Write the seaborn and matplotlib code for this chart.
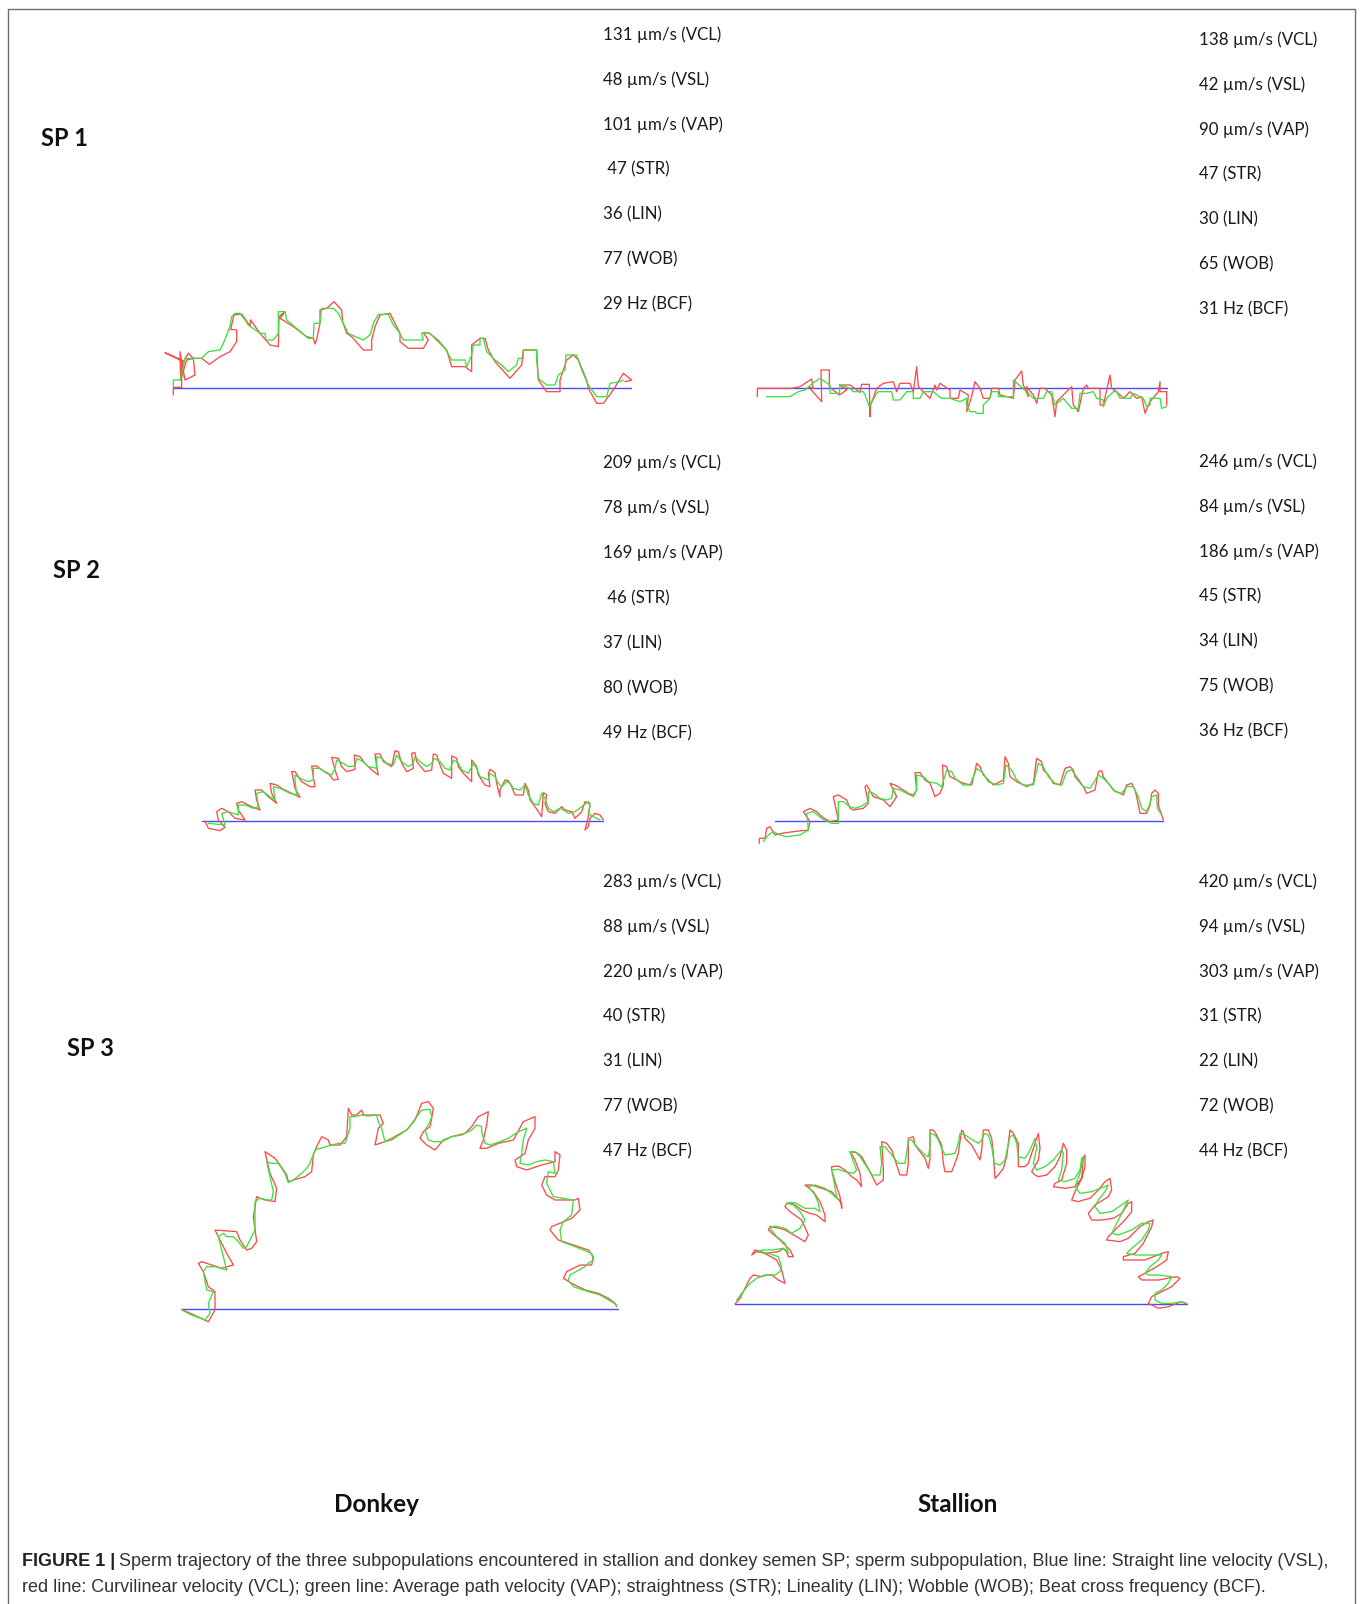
import pandas as pd
import matplotlib
matplotlib.use("Agg")
import matplotlib.pyplot as plt
import seaborn as sns

sns.set_style("white")
plt.rcParams['font.family'] = ['Lato', 'DejaVu Sans']

# ===== KINEMATIC VALUES (SP1, SP2, SP3) =====
donkey_vcl = [131, 209, 283]
donkey_vsl = [48, 78, 88]
donkey_vap = [101, 169, 220]
donkey_str = [47, 46, 40]
donkey_lin = [36, 37, 31]
donkey_wob = [77, 80, 77]
donkey_bcf = [29, 49, 47]

stallion_vcl = [138, 246, 420]
stallion_vsl = [42, 84, 94]
stallion_vap = [90, 186, 303]
stallion_str = [47, 45, 31]
stallion_lin = [30, 34, 22]
stallion_wob = [65, 75, 72]
stallion_bcf = [31, 36, 44]

sp_labels = ["SP 1", "SP 2", "SP 3"]
species = ["Donkey", "Stallion"]

# ===== TRACKS (points in track units, y downwards) =====
# SP1 donkey
d1_vcl = [(40,315),(40,292),(65,292),(65,210),(15,188),(70,215),(85,190),(100,205),(105,255),(75,270),
          (60,185),(62,270),(80,210),(100,205),(125,205),(148,223),(180,200),(210,185),(230,155),(230,120),
          (212,118),(222,75),(245,72),(270,108),(272,90),(300,130),(330,165),(355,170),(357,80),(375,65),
          (360,85),(400,110),(440,140),(460,145),(465,162),(470,148),(480,100),(480,60),(500,55),(522,35),
          (545,60),(548,95),(560,130),(575,140),(610,180),(635,180),(635,150),(645,110),(660,75),(690,70),
          (700,90),(720,130),(720,155),(745,175),(790,175),(805,150),(790,128),(810,130),(830,150),(860,180),
          (875,230),(915,230),(935,245),(935,165),(960,145),(975,145),(985,180),(1005,215),(1050,265),(1085,225),
          (1090,180),(1130,180),(1135,270),(1160,305),(1200,305),(1200,270),(1220,210),(1240,195),(1255,210),
          (1280,270),(1285,295),(1310,340),(1330,340),(1360,300),(1390,250),(1415,270),(1395,275)]
d1_vap = [(40,290),(40,270),(60,270),(70,230),(75,205),(125,205),(145,185),(180,180),(190,160),(210,110),
          (215,80),(225,70),(240,70),(255,90),(265,105),(300,130),(315,130),(318,150),(340,150),(355,130),
          (355,65),(375,65),(380,90),(445,145),(460,145),(462,100),(480,100),(485,55),(520,55),(535,70),
          (550,100),(565,130),(575,135),(610,150),(630,135),(640,100),(655,73),(685,73),(700,105),(720,130),
          (730,150),(790,150),(785,130),(805,128),(835,150),(855,175),(875,210),(915,210),(920,230),(935,195),
          (940,165),(960,165),(960,145),(970,145),(980,185),(1005,210),(1025,225),(1045,245),(1070,225),(1075,205),
          (1090,205),(1090,180),(1130,180),(1130,210),(1135,265),(1160,285),(1185,285),(1195,255),(1215,240),
          (1218,195),(1250,195),(1265,240),(1285,285),(1310,320),(1340,320),(1350,280),(1380,275),(1390,270)]
d1_vsl = [(40,293),(1412,293)]

# SP1 stallion
s1_vcl = [(22,125),(22,100),(125,100),(150,95),(185,72),(190,100),(175,95),(215,140),(213,45),(238,45),
          (238,95),(268,120),(290,105),(268,90),(300,90),(330,112),(335,88),(358,88),(360,185),(362,150),
          (380,100),(400,85),(430,80),(440,110),(450,85),(480,85),(490,110),(500,35),(505,95),(520,110),
          (540,130),(555,90),(560,105),(570,85),(600,105),(600,130),(625,130),(630,105),(655,120),(650,170),
          (665,125),(675,80),(690,100),(700,130),(720,130),(725,100),(745,100),(750,120),(790,130),(795,75),
          (815,48),(820,90),(835,125),(830,95),(850,120),(860,145),(870,100),(885,100),(905,120),(915,185),
          (920,140),(940,120),(965,95),(970,150),(985,170),(1000,100),(1010,90),(1015,100),(1050,100),(1050,150),
          (1060,150),(1080,60),(1085,100),(1100,110),(1120,130),(1140,110),(1160,130),(1175,125),(1185,175),
          (1200,140),(1225,110),(1230,80),(1230,110),(1250,110),(1250,150)]
s1_vap = [(50,125),(120,125),(145,110),(165,105),(188,85),(210,70),(240,90),(240,115),(268,115),(270,90),
          (300,100),(310,110),(340,110),(345,120),(358,155),(380,115),(385,110),(425,110),(430,135),(450,135),
          (470,110),(490,110),(490,130),(510,130),(520,110),(550,110),(575,130),(600,130),(630,140),(650,130),
          (650,150),(660,170),(675,170),(680,175),(700,175),(700,150),(720,130),(725,110),(745,110),(745,125),
          (790,125),(790,75),(830,110),(850,130),(880,130),(890,110),(905,110),(915,150),(940,130),(965,160),
          (985,160),(990,115),(1010,115),(1030,110),(1040,130),(1060,135),(1060,155),(1070,130),(1090,110),
          (1100,110),(1110,130),(1140,130),(1150,115),(1160,120),(1180,130),(1190,155),(1200,150),(1200,130),
          (1230,130),(1235,160),(1250,155)]
s1_vsl = [(22,100),(1250,100)]

# SP2 donkey
d2_vcl = [(30,243),(40,265),(75,272),(90,262),(70,240),(65,215),(80,205),(100,215),(120,235),(150,240),
          (130,210),(125,190),(140,185),(170,200),(195,210),(185,180),(180,150),(200,150),(220,170),(245,190),
          (230,160),(225,130),(245,135),(265,148),(290,160),(315,172),(300,145),(290,95),(300,95),(320,125),
          (345,140),(360,140),(355,110),(350,78),(365,78),(380,90),(400,100),(415,120),(430,118),(420,90),
          (410,52),(430,55),(440,80),(455,95),(480,88),(478,45),(495,50),(510,70),(530,90),(550,105),
          (545,80),(540,42),(555,42),(565,65),(590,80),(600,32),(610,35),(620,70),(635,95),(655,85),
          (650,40),(660,38),(665,65),(690,95),(710,90),(715,42),(725,45),(735,75),(745,100),(770,115),
          (770,48),(785,55),(790,80),(805,100),(830,125),(830,60),(845,80),(850,105),(870,135),(885,140),
          (880,100),(885,88),(900,98),(905,130),(915,170),(915,150),(930,120),(940,122),(950,140),(960,165),
          (985,165),(990,130),(1000,150),(1005,180),(1020,200),(1040,230),(1045,158),(1055,165),(1050,190),
          (1060,215),(1080,220),(1100,200),(1110,210),(1130,215),(1140,235),(1160,215),(1170,185),(1185,190),
          (1180,230),(1170,270),(1180,260),(1185,235),(1200,220),(1215,225),(1225,240)]
d2_vap = [(40,250),(90,255),(80,220),(100,215),(130,225),(130,195),(150,195),(175,205),(190,200),(185,160),
          (205,155),(225,170),(240,180),(235,140),(255,145),(285,160),(305,165),(300,120),(300,105),(315,115),
          (340,125),(355,120),(355,85),(375,85),(395,100),(410,105),(420,85),(425,60),(445,70),(460,80),
          (480,78),(485,55),(505,65),(520,80),(545,85),(545,50),(560,55),(575,70),(595,75),(605,45),
          (620,65),(640,80),(655,70),(660,50),(675,65),(695,80),(710,70),(718,55),(735,65),(750,85),
          (765,90),(775,60),(790,70),(800,90),(820,100),(835,70),(845,85),(855,110),(880,120),(885,100),
          (900,110),(910,130),(920,140),(935,125),(945,130),(955,145),(975,150),(990,135),(1000,165),(1015,190),
          (1030,195),(1040,160),(1050,175),(1060,205),(1075,215),(1095,205),(1105,210),(1120,220),(1140,215),
          (1160,200),(1180,185),(1185,200),(1180,220),(1195,230),(1215,240)]
d2_vsl = [(20,242),(1225,242)]

# SP2 stallion
s2_vcl = [(28,280),(28,265),(45,265),(50,235),(60,230),(75,255),(95,250),(130,245),(175,240),(180,215),
          (160,185),(180,175),(200,185),(215,200),(240,215),(265,210),(250,140),(265,135),(290,150),(300,175),
          (310,180),(340,175),(355,160),(345,110),(350,105),(370,140),(400,150),(420,170),(440,140),(420,100),
          (435,105),(460,120),(475,130),(490,135),(500,120),(495,68),(510,68),(525,90),(540,100),(555,140),
          (570,130),(580,105),(578,45),(590,50),(600,80),(620,90),(640,100),(665,105),(680,40),(690,50),
          (700,75),(715,90),(730,105),(760,90),(765,20),(775,40),(780,80),(800,95),(830,110),(850,100),
          (860,25),(875,35),(880,60),(895,75),(910,100),(930,105),(945,55),(960,50),(970,60),(975,80),
          (1000,110),(1010,130),(1035,120),(1045,65),(1055,62),(1060,80),(1075,100),(1090,120),(1120,135),
          (1130,105),(1145,100),(1155,120),(1160,140),(1170,190),(1190,190),(1200,165),(1205,130),(1215,120),
          (1225,130),(1225,165),(1235,195),(1240,210)]
s2_vap = [(40,275),(55,255),(70,245),(90,255),(110,260),(150,255),(175,240),(172,205),(170,190),(190,185),
          (215,205),(245,220),(265,220),(265,155),(280,155),(300,170),(315,175),(335,168),(355,155),(355,125),
          (370,130),(390,145),(410,150),(425,145),(430,115),(450,120),(470,130),(490,140),(500,120),(500,75),
          (520,80),(535,95),(560,100),(575,110),(590,60),(605,65),(615,85),(640,105),(660,105),(680,55),
          (700,70),(715,95),(740,105),(760,100),(768,45),(785,60),(800,90),(820,105),(850,105),(865,40),
          (880,50),(895,80),(915,100),(935,105),(950,65),(965,60),(980,80),(1000,110),(1020,115),(1045,75),
          (1060,85),(1075,100),(1095,125),(1115,130),(1130,110),(1150,110),(1165,140),(1175,175),(1190,185),
          (1200,160),(1205,140),(1220,135),(1222,175),(1232,190)]
s2_vsl = [(75,212),(1240,212)]

# SP3 donkey
d3_vcl = [(20,658),(100,695),(120,660),(120,605),(100,590),(85,545),(70,520),(80,515),(110,525),(140,535),
          (175,525),(155,490),(120,420),(185,425),(195,450),(215,480),(230,475),(245,455),(235,380),(245,320),
          (270,330),(300,335),(305,295),(285,250),(270,185),(300,205),(315,225),(335,255),(340,275),(355,270),
          (390,260),(410,245),(415,195),(425,170),(440,140),(460,150),(465,165),(495,165),(515,140),(520,55),
          (530,75),(545,75),(560,60),(565,75),(590,75),(615,75),(625,100),(610,115),(600,165),(630,155),
          (650,145),(695,120),(720,90),(740,40),(760,35),(775,55),(770,85),(765,110),(745,125),(735,145),
          (755,165),(780,180),(805,150),(830,140),(870,130),(890,110),(910,80),(940,65),(935,105),(925,150),
          (915,175),(935,175),(970,160),(1015,150),(1045,95),(1080,80),(1080,115),(1060,150),(1050,190),(1020,210),
          (1025,230),(1055,240),(1100,225),(1140,215),(1140,185),(1155,195),(1150,240),(1140,260),(1110,260),
          (1100,285),(1115,315),(1140,330),(1200,330),(1210,325),(1215,360),(1190,385),(1130,410),(1125,420),
          (1150,450),(1180,460),(1240,480),(1255,500),(1250,525),(1215,525),(1175,545),(1165,565),(1190,580),
          (1230,600),(1270,610),(1300,625),(1320,640),(1325,650)]
d3_vap = [(20,660),(50,675),(90,690),(105,670),(100,640),(115,605),(95,600),(85,545),(95,530),(120,530),
          (155,540),(130,440),(145,430),(155,440),(175,440),(190,455),(205,475),(215,470),(240,420),(240,335),
          (255,325),(280,330),(290,330),(295,305),(275,215),(290,220),(310,220),(330,250),(340,278),(355,270),
          (380,250),(395,235),(405,220),(420,180),(470,165),(490,160),(510,160),(525,115),(525,80),(540,80),
          (560,75),(580,78),(605,75),(610,95),(620,115),(630,155),(650,150),(680,130),(700,115),(725,80),
          (740,60),(765,58),(770,80),(765,95),(750,120),(760,150),(775,155),(800,155),(830,140),(860,135),
          (890,120),(905,105),(920,110),(920,125),(930,160),(945,165),(975,155),(1000,145),(1030,125),(1055,115),
          (1045,150),(1040,190),(1035,220),(1060,225),(1085,215),(1110,210),(1135,215),(1140,250),(1120,245),
          (1115,280),(1135,320),(1165,325),(1195,330),(1190,375),(1165,395),(1155,420),(1160,455),(1200,470),
          (1250,490),(1255,510),(1240,520),(1230,530),(1185,555),(1180,570),(1195,590),(1240,605),(1275,615),
          (1310,635),(1325,645)]
d3_vsl = [(20,658),(1330,658)]

# SP3 stallion
s3_vcl = [(30,552),(45,535),(75,475),(85,465),(110,470),(125,465),(140,465),(160,480),(180,490),(170,450),
          (155,420),(110,395),(90,390),(80,405),(95,395),(120,400),(160,395),(175,385),(185,395),(190,410),
          (205,410),(195,390),(165,360),(130,330),(135,320),(165,325),(180,330),(215,350),(240,365),(250,345),
          (230,300),(195,275),(180,260),(185,250),(200,248),(230,270),(255,280),(275,285),(300,305),(300,285),
          (285,245),(265,215),(240,195),(260,195),(290,205),(320,215),(350,250),(350,265),(345,230),(330,185),
          (320,150),(320,140),(340,138),(360,150),(380,170),(395,180),(410,200),(405,160),(390,120),(375,95),
          (395,98),(410,110),(435,155),(455,195),(475,180),(475,145),(470,65),(485,70),(500,90),(515,135),
          (525,165),(545,165),(550,130),(550,55),(565,50),(570,75),(585,95),(600,115),(610,145),(615,115),
          (615,30),(625,30),(635,45),(650,75),(655,130),(660,155),(680,155),(690,130),(700,100),(710,30),
          (715,35),(720,55),(740,75),(765,120),(770,90),(775,30),(790,30),(800,55),(805,100),(810,175),
          (820,165),(835,145),(845,110),(855,30),(865,40),(880,70),(880,140),(900,140),(910,130),(930,70),
          (940,40),(945,85),(940,120),(920,155),(930,165),(940,170),(965,165),(990,140),(1005,110),(1015,70),
          (1025,90),(1025,130),(1010,180),(990,190),(985,200),(1020,205),(1050,200),(1070,175),(1075,115),
          (1080,105),(1080,140),(1070,175),(1050,215),(1040,240),(1060,245),(1075,240),(1095,235),(1120,210),
          (1140,185),(1155,175),(1160,210),(1150,230),(1110,255),(1090,280),(1100,300),(1130,300),(1165,295),
          (1190,280),(1210,250),(1220,245),(1220,275),(1200,300),(1180,320),(1150,350),(1145,360),(1185,365),
          (1210,355),(1245,320),(1270,305),(1285,300),(1280,320),(1255,370),(1230,400),(1195,410),(1195,420),
          (1220,420),(1260,420),(1310,400),(1330,395),(1325,420),(1295,440),(1260,460),(1240,470),(1250,480),
          (1300,480),(1355,470),(1365,475),(1340,500),(1300,520),(1280,530),(1270,550),(1300,565),(1330,560),
          (1370,545),(1385,552)]
s3_vap = [(35,540),(50,520),(75,490),(95,475),(120,465),(150,465),(165,455),(170,440),(160,410),(130,400),
          (100,395),(110,390),(140,390),(175,385),(190,400),(180,370),(155,350),(135,325),(150,318),(180,325),
          (200,340),(225,325),(240,300),(225,275),(205,255),(185,250),(210,248),(240,265),(270,265),(285,275),
          (280,250),(270,225),(250,200),(270,195),(300,205),(325,225),(335,235),(330,200),(320,150),(340,148),
          (360,155),(385,160),(395,150),(385,125),(375,95),(390,95),(405,110),(425,140),(440,165),(465,165),
          (470,130),(465,80),(480,80),(500,105),(520,130),(540,130),(545,100),(550,60),(560,60),(575,80),
          (590,95),(600,105),(610,110),(615,80),(615,40),(630,45),(640,60),(650,85),(660,105),(690,100),
          (700,70),(705,40),(720,45),(735,55),(760,70),(770,60),(778,40),(790,45),(800,80),(808,130),
          (825,135),(840,120),(855,50),(865,45),(875,70),(880,110),(900,115),(915,90),(930,55),(935,85),
          (925,130),(935,150),(960,140),(985,120),(1005,95),(1010,90),(1015,100),(1010,150),(1000,180),(1020,185),
          (1050,175),(1065,150),(1070,115),(1075,110),(1065,160),(1050,200),(1065,220),(1100,215),(1140,200),
          (1150,195),(1140,215),(1120,240),(1110,260),(1125,280),(1160,275),(1190,255),(1210,240),(1200,260),
          (1185,290),(1170,320),(1160,340),(1180,345),(1220,330),(1250,310),(1275,310),(1270,330),(1250,360),
          (1220,385),(1205,400),(1230,405),(1270,405),(1310,405),(1300,420),(1275,440),(1260,460),(1270,465),
          (1300,465),(1340,470),(1330,490),(1310,510),(1290,520),(1290,540),(1310,550),(1340,550),(1370,545),
          (1385,550)]
s3_vsl = [(30,552),(1385,552)]

# ===== LAYOUT (figure pixels) =====
W, H = 1360, 1604
track_scale = 1 / 3
track_origin = {
    ("Donkey", 0): (160, 290), ("Stallion", 0): (750, 355),
    ("Donkey", 1): (195, 740), ("Stallion", 1): (750, 750),
    ("Donkey", 2): (175, 1090), ("Stallion", 2): (725, 1120),
}
tracks = {
    ("Donkey", 0): (d1_vcl, d1_vap, d1_vsl), ("Stallion", 0): (s1_vcl, s1_vap, s1_vsl),
    ("Donkey", 1): (d2_vcl, d2_vap, d2_vsl), ("Stallion", 1): (s2_vcl, s2_vap, s2_vsl),
    ("Donkey", 2): (d3_vcl, d3_vap, d3_vsl), ("Stallion", 2): (s3_vcl, s3_vap, s3_vsl),
}
text_x = {"Donkey": 603, "Stallion": 1199}
text_y0 = {("Donkey", 0): 34.5, ("Stallion", 0): 39.5,
           ("Donkey", 1): 463, ("Stallion", 1): 461.5,
           ("Donkey", 2): 881.5, ("Stallion", 2): 881.5}
row_step = 45
sp_label_pos = [(41, 139), (53, 570), (67, 1048)]
species_pos = {"Donkey": (376, 1504), "Stallion": (958, 1504)}

RED, GREEN, BLUE = "#ff4a4a", "#3ee03e", "#4a4aff"

fig = plt.figure(figsize=(W / 100, H / 100), dpi=100)
ax = fig.add_axes([0, 0, 1, 1])

# frame
ax.plot([8, 8, 1355, 1355], [H, 9, 9, H], color="#6e6e6e", lw=1.0)


def to_frame(points, origin):
    df = pd.DataFrame(points, columns=["x", "y"])
    df["x"] = origin[0] + df["x"] * track_scale
    df["y"] = origin[1] + df["y"] * track_scale
    return df


for key, (vcl, vap, vsl) in tracks.items():
    org = track_origin[key]
    sns.lineplot(data=to_frame(vsl, org), x="x", y="y", sort=False, estimator=None,
                 color=BLUE, lw=1.0, ax=ax)
    sns.lineplot(data=to_frame(vcl, org), x="x", y="y", sort=False, estimator=None,
                 color=RED, lw=0.95, ax=ax)
    sns.lineplot(data=to_frame(vap, org), x="x", y="y", sort=False, estimator=None,
                 color=GREEN, lw=0.95, ax=ax)

ax.set_xlim(0, W)
ax.set_ylim(H, 0)
ax.axis("off")

values = {
    "Donkey": [donkey_vcl, donkey_vsl, donkey_vap, donkey_str, donkey_lin, donkey_wob, donkey_bcf],
    "Stallion": [stallion_vcl, stallion_vsl, stallion_vap, stallion_str, stallion_lin, stallion_wob, stallion_bcf],
}
fmts = ["{} µm/s (VCL)", "{} µm/s (VSL)", "{} µm/s (VAP)", "{} (STR)", "{} (LIN)", "{} (WOB)", "{} Hz (BCF)"]

for sp in range(3):
    for name in species:
        for r, fmt in enumerate(fmts):
            txt = fmt.format(values[name][r][sp])
            if name == "Donkey" and r == 3 and sp < 2:
                txt = " " + txt
            ax.text(text_x[name], text_y0[(name, sp)] + r * row_step, txt,
                    fontsize=12.2, va="center", ha="left", color="#1a1a1a")
    ax.text(sp_label_pos[sp][0], sp_label_pos[sp][1], sp_labels[sp], fontsize=17,
            fontweight="bold", va="center", ha="left", color="#111111")

for name in species:
    ax.text(species_pos[name][0], species_pos[name][1], name, fontsize=17.5,
            fontweight="bold", va="center", ha="center", color="#111111")

# caption
cap_font = ["Liberation Sans Narrow", "Liberation Sans", "DejaVu Sans"]
t1 = ax.text(22, 1562, "FIGURE 1 |", fontsize=13, fontweight="bold", va="center",
             ha="left", family=cap_font, color="#222222")
fig.canvas.draw()
bb = t1.get_window_extent(renderer=fig.canvas.get_renderer())
x_after = ax.transData.inverted().transform((bb.x1, bb.y0))[0]
ax.text(x_after + 4, 1562,
        "Sperm trajectory of the three subpopulations encountered in stallion and donkey semen SP; "
        "sperm subpopulation, Blue line: Straight line velocity (VSL),",
        fontsize=13, va="center", ha="left", family=cap_font, color="#333333")
ax.text(22, 1587,
        "red line: Curvilinear velocity (VCL); green line: Average path velocity (VAP); straightness (STR); "
        "Lineality (LIN); Wobble (WOB); Beat cross frequency (BCF).",
        fontsize=13, va="center", ha="left", family=cap_font, color="#333333")

plt.savefig("out.png", dpi=100)
plt.close()
